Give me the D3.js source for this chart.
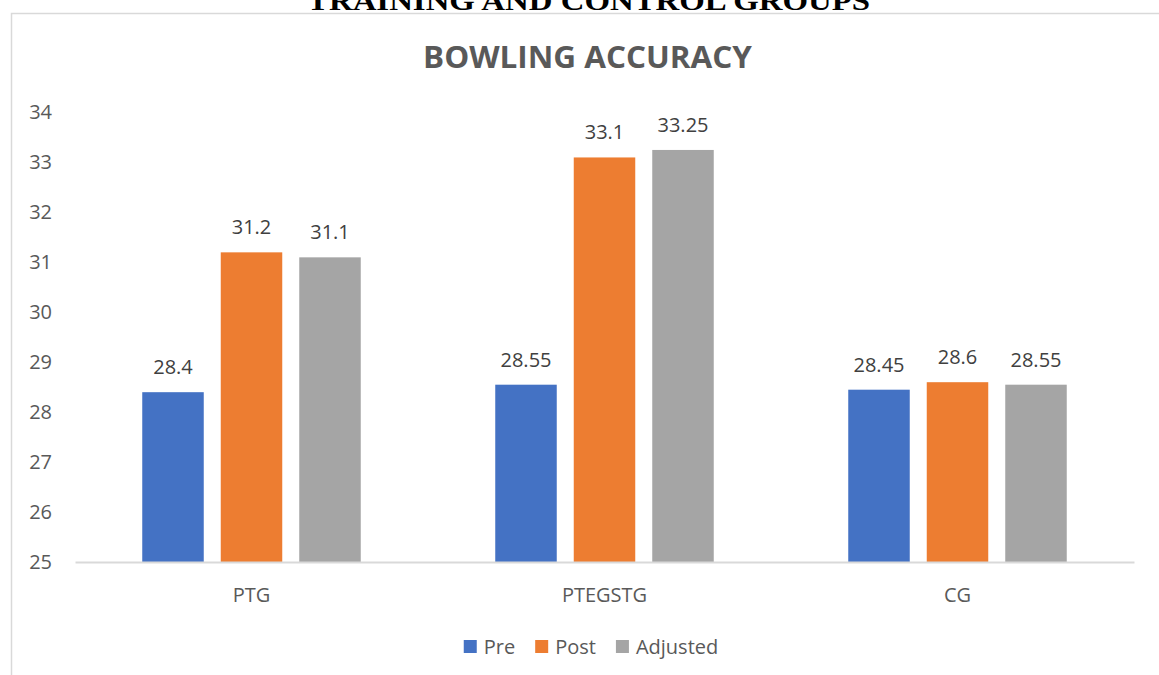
<!DOCTYPE html>
<html>
<head>
<meta charset="utf-8">
<script src="https://cdn.jsdelivr.net/npm/d3@7"></script>
<style>
  body { margin: 0; background: #fff; }
  text { font-family: "Open Sans", sans-serif; }
</style>
</head>
<body>
<svg id="chart" width="1159" height="675"></svg>
<script>
var categories = ["PTG", "PTEGSTG", "CG"];
var series = ["Pre", "Post", "Adjusted"];
var preValues = [28.4, 28.55, 28.45];
var postValues = [31.2, 33.1, 28.6];
var adjustedValues = [31.1, 33.25, 28.55];
var yTicks = [25, 26, 27, 28, 29, 30, 31, 32, 33, 34];
var colors = ["#4472C4", "#ED7D31", "#A5A5A5"];

var width = 1159, height = 675;
var margin = {top: 112.5, right: 25, bottom: 113, left: 75};

var svg = d3.select("#chart");
svg.append("rect").attr("width", width).attr("height", height).attr("fill", "#fff");

// page heading cut off at the top of the picture
svg.append("text")
    .attr("x", 588.5).attr("y", 10)
    .attr("text-anchor", "middle")
    .attr("textLength", 563).attr("lengthAdjust", "spacingAndGlyphs")
    .style("font-family", "'Liberation Serif', 'Times New Roman', serif")
    .style("font-weight", "bold").style("font-size", "27px")
    .attr("fill", "#000")
    .text("TRAINING AND CONTROL GROUPS");

// chart border (runs off right and bottom)
svg.append("rect")
    .attr("x", 11.5).attr("y", 13.5)
    .attr("width", width + 20).attr("height", height + 20)
    .attr("fill", "#fff").attr("stroke", "#d9d9d9").attr("stroke-width", 1.5);

svg.append("text")
    .attr("x", 587.5).attr("y", 68)
    .attr("text-anchor", "middle")
    .attr("textLength", 329).attr("lengthAdjust", "spacingAndGlyphs")
    .style("font-weight", "bold").style("font-size", "30px")
    .attr("fill", "#595959")
    .text("BOWLING ACCURACY");

var data = categories.map(function(c, i) {
    return {group: c, values: [preValues[i], postValues[i], adjustedValues[i]]};
});

var x0 = d3.scaleBand()
    .domain(categories)
    .range([margin.left, width - margin.right])
    .padding(0);

var step = 78.5, inner = 17 / step;
var span = 3 * step - 17;
var x1 = d3.scaleBand()
    .domain(series)
    .range([(x0.bandwidth() - span) / 2, (x0.bandwidth() + span) / 2])
    .paddingInner(inner)
    .paddingOuter(0);

var y = d3.scaleLinear()
    .domain([25, 34])
    .range([height - margin.bottom, margin.top]);

// y axis labels only
var yAxis = svg.append("g")
    .attr("transform", "translate(" + margin.left + ",0)")
    .call(d3.axisLeft(y).tickValues(yTicks).tickSize(0).tickPadding(23).tickFormat(d3.format("d")));
yAxis.select(".domain").remove();
yAxis.selectAll("text")
    .style("font-family", "'Open Sans', sans-serif")
    .style("font-size", "20px")
    .attr("fill", "#595959");

// bars
var groups = svg.append("g").selectAll("g")
    .data(data)
  .enter().append("g")
    .attr("transform", function(d) { return "translate(" + x0(d.group) + ",0)"; });

groups.selectAll("rect")
    .data(function(d) { return d.values.map(function(v, j) { return {key: series[j], value: v, idx: j}; }); })
  .enter().append("rect")
    .attr("x", function(d) { return x1(d.key); })
    .attr("y", function(d) { return y(d.value); })
    .attr("width", x1.bandwidth())
    .attr("height", function(d) { return y(25) - y(d.value); })
    .attr("fill", function(d) { return colors[d.idx]; });

groups.selectAll("text")
    .data(function(d) { return d.values.map(function(v, j) { return {key: series[j], value: v}; }); })
  .enter().append("text")
    .attr("x", function(d) { return x1(d.key) + x1.bandwidth() / 2; })
    .attr("y", function(d) { return y(d.value) - 18; })
    .attr("text-anchor", "middle")
    .style("font-size", "20px")
    .attr("fill", "#404040")
    .text(function(d) { return d.value; });

// baseline
var xAxis = svg.append("g")
    .attr("transform", "translate(0," + y(25) + ")")
    .call(d3.axisBottom(x0).tickSize(0).tickPadding(26));
xAxis.select(".domain").attr("stroke", "#d9d9d9").attr("stroke-width", 2);
xAxis.selectAll("text")
    .style("font-family", "'Open Sans', sans-serif")
    .style("font-size", "20px")
    .attr("fill", "#595959");

// legend
var legend = svg.append("g");
var items = legend.selectAll("g")
    .data(series)
  .enter().append("g");
items.append("rect")
    .attr("width", 13).attr("height", 13)
    .attr("y", 640)
    .attr("fill", function(d, i) { return colors[i]; });
items.append("text")
    .attr("x", 20).attr("y", 653.5)
    .style("font-size", "20px")
    .attr("fill", "#595959")
    .text(function(d) { return d; });

var offsets = [], pos = 0;
items.each(function() {
    offsets.push(pos);
    pos += 20 + this.querySelector("text").getComputedTextLength() + 20;
});
var total = pos - 20;
var start = 591 - total / 2;
items.attr("transform", function(d, i) { return "translate(" + (start + offsets[i]) + ",0)"; });
</script>
</body>
</html>
